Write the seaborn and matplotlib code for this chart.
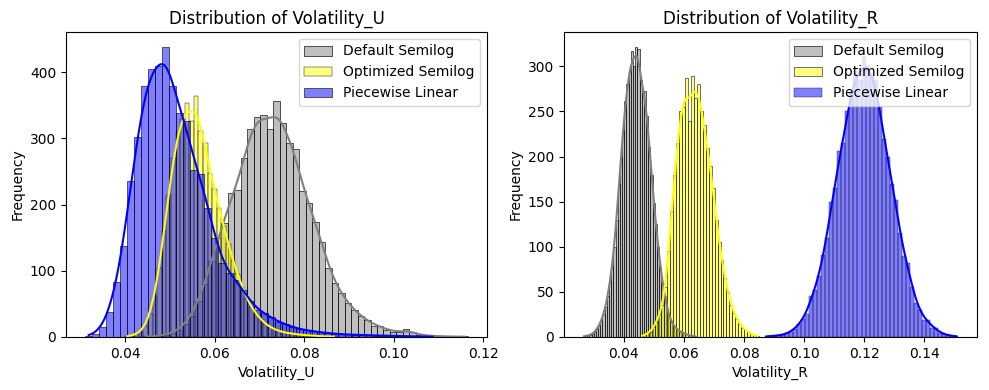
import numpy as np
import matplotlib
matplotlib.use("Agg")
import matplotlib.pyplot as plt
import seaborn as sns

methods = ["Default Semilog", "Optimized Semilog", "Piecewise Linear"]
colors = ["gray", "yellow", "blue"]

# Volatility_U: (min, max) of the data and the count in each bin
u_ranges = [(0.0441, 0.1166), (0.0400, 0.0872), (0.0311, 0.1095)]
u_default = [1, 1, 2, 3, 6, 11, 20, 32, 55, 80, 115, 150, 173, 218, 222,
             271, 314, 333, 336, 315, 356, 324, 293, 284, 220, 203, 174, 144,
             105, 81, 66, 51, 41, 31, 26, 17, 17, 11, 8, 7, 12, 7, 3,
             2, 2, 1, 1, 1, 0, 1]
u_optimized = [1, 2, 4, 8, 17, 35, 62, 105, 160, 215, 270, 310, 330, 354,
               326, 364, 311, 293, 248, 223, 195, 167, 140, 115, 95, 75, 58,
               45, 35, 27, 20, 15, 12, 9, 7, 6, 5, 4, 3, 3, 2, 2, 1, 1, 1, 1]
u_piecewise = [2, 4, 15, 38, 83, 137, 236, 302, 380, 405, 410, 439, 380, 339,
               326, 253, 247, 195, 150, 112, 96, 86, 71, 54, 41, 36, 30, 22,
               20, 15, 12, 10, 9, 7, 6, 5, 4, 4, 3, 3, 3, 2, 2, 2, 1, 1, 1,
               1, 0, 1]

# Volatility_R
r_ranges = [(0.0263, 0.0641), (0.0455, 0.0850), (0.0869, 0.1513)]
r_default = [1, 1, 2, 2, 3, 6, 9, 12, 18, 25, 33, 45, 62, 78, 100, 130, 170,
             200, 230, 262, 280, 295, 317, 300, 322, 319, 285, 270, 273, 245,
             211, 180, 149, 125, 100, 78, 60, 45, 32, 23, 17, 13, 10, 8, 6,
             5, 4, 3, 2, 1, 1, 1]
r_optimized = [1, 2, 4, 6, 11, 17, 25, 35, 55, 95, 140, 180, 215, 250, 255,
               287, 239, 289, 265, 280, 250, 235, 210, 190, 165, 130, 105, 85,
               65, 50, 36, 27, 20, 14, 10, 8, 5, 3, 2, 1]
r_piecewise = [1, 1, 1, 2, 2, 4, 6, 9, 14, 20, 26, 45, 52, 68, 91, 110, 150,
               165, 206, 215, 250, 270, 295, 285, 310, 300, 290, 285, 255, 219,
               200, 170, 152, 115, 90, 82, 55, 38, 30, 19, 19, 10, 10, 4, 3,
               2, 1, 1]


def draw_hist(ax, rng, counts, color, label):
    n = len(counts)
    edges = np.linspace(rng[0], rng[1], n + 1)
    centers = (edges[:-1] + edges[1:]) / 2
    values = np.repeat(centers, counts)
    sns.histplot(x=values, bins=n, binrange=rng, kde=True, color=color,
                 alpha=0.5, label=label, ax=ax)


fig, axes = plt.subplots(1, 2, figsize=(9.89, 3.9))

for name, ax, ranges, series in [
    ("Volatility_U", axes[0], u_ranges, [u_default, u_optimized, u_piecewise]),
    ("Volatility_R", axes[1], r_ranges, [r_default, r_optimized, r_piecewise]),
]:
    for rng, counts, color, label in zip(ranges, series, colors, methods):
        draw_hist(ax, rng, counts, color, label)
    ax.set_title(f"Distribution of {name}")
    ax.set_xlabel(name)
    ax.set_ylabel("Frequency")
    ax.legend(loc="upper right")

# place the panels where they sit in the original
axes[0].set_position([66 / 989, 53 / 390, 421 / 989, 305 / 390])
axes[1].set_position([564 / 989, 53 / 390, 413 / 989, 305 / 390])

plt.savefig("out.png", dpi=100)
